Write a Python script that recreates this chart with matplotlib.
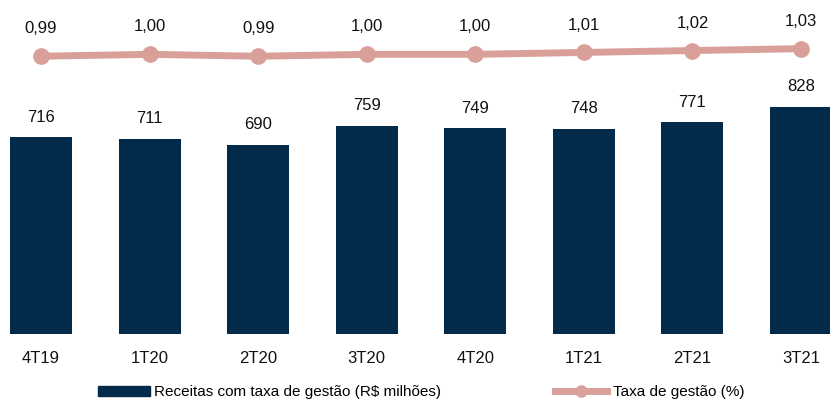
import matplotlib
matplotlib.use("Agg")
import matplotlib.pyplot as plt
from matplotlib.patches import Patch
from matplotlib.lines import Line2D

plt.rcParams['font.family'] = ['Liberation Sans', 'DejaVu Sans']

# data
quarters = ['4T19', '1T20', '2T20', '3T20', '4T20', '1T21', '2T21', '3T21']
receitas = [716, 711, 690, 759, 749, 748, 771, 828]
taxa = [0.99, 1.00, 0.99, 1.00, 1.00, 1.01, 1.02, 1.03]

bar_color = '#022B4B'
line_color = '#D9A09A'

fig = plt.figure(figsize=(8.3, 4), dpi=100)
ax = fig.add_axes([0, 0.165, 1, 0.835])
x = list(range(len(quarters)))

bars = ax.bar(x, receitas, width=0.571, color=bar_color, zorder=2)
ax.bar_label(bars, labels=[str(v) for v in receitas], padding=9, fontsize=12, color='#111111')
ax.set_xlim(-0.3776, 7.267)
ax.set_ylim(0, 1217)
ax.set_xticks(x)
ax.set_xticklabels(quarters, fontsize=12, color='#111111')
ax.tick_params(axis='x', length=0, pad=12)
ax.set_yticks([])
for s in ax.spines.values():
    s.set_visible(False)

ax2 = ax.twinx()
ax2.plot(x, taxa, color=line_color, lw=5, marker='o', ms=11, zorder=3)
ax2.set_ylim(-0.472, 1.286)
ax2.set_yticks([])
for s in ax2.spines.values():
    s.set_visible(False)
for xi, v in zip(x, taxa):
    ax2.annotate(f'{v:.2f}'.replace('.', ','), (xi, v), xytext=(0, 16.5),
                 textcoords='offset points', ha='center', va='baseline',
                 fontsize=12, color='#111111')

fig.legend(handles=[Patch(color=bar_color)],
           labels=['Receitas com taxa de gestão (R$ milhões)'],
           loc='center left', bbox_to_anchor=(0.101, 0.019), frameon=False,
           fontsize=11, handlelength=3.4, handleheight=0.55, handletextpad=0.3)
fig.legend(handles=[Line2D([], [], color=line_color, lw=5, marker='o', ms=8)],
           labels=['Taxa de gestão (%)'],
           loc='center left', bbox_to_anchor=(0.652, 0.019), frameon=False,
           fontsize=11, handlelength=3.4, handletextpad=0.4)

fig.savefig('out.png', dpi=100)
